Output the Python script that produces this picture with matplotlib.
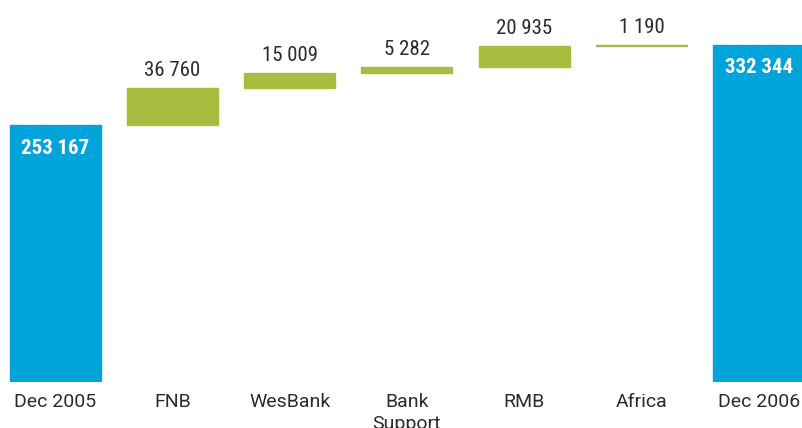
import os
import matplotlib
matplotlib.use("Agg")
import matplotlib.pyplot as plt
import matplotlib.font_manager as fm
import numpy as np

categories = ["Dec 2005", "FNB", "WesBank", "Bank\nSupport", "RMB", "Africa", "Dec 2006"]
start_total = 253167
increments = [36760, 15009, 5282, 20935, 1190]
end_total = 332344
labels = ["253 167", "36 760", "15 009", "5 282", "20 935", "1 190", "332 344"]

BLUE = "#00A3DA"
GREEN = "#A6BD40"
TEXT = "#2b2b2b"

files = [f.fname for f in fm.fontManager.ttflist]
lowfiles = [(os.path.basename(p).lower(), p) for p in files]

def pick(prefixes, bold):
    for pre in prefixes:
        for base, p in lowfiles:
            if base.startswith(pre):
                isbold = 'bold' in base
                if bold == isbold and 'italic' not in base and 'oblique' not in base \
                        and 'light' not in base and 'semi' not in base and 'extra' not in base \
                        and 'medium' not in base and 'black' not in base and 'thin' not in base:
                    return p
    return None

prefs = ['robotocondensed', 'roboto_condensed', 'liberationsansnarrow',
         'dejavusanscondensed', 'notosans-condensed', 'opensans-condensed',
         'opensans_condensed']
reg = pick(prefs, False)
bld = pick(prefs, True)
fp_reg = fm.FontProperties(fname=reg) if reg else fm.FontProperties(family='Roboto')
fp_bold = fm.FontProperties(fname=bld) if bld else fm.FontProperties(family='Roboto', weight='bold')
fp_tick = fm.FontProperties(family='Roboto')

sz_val = 15
sz_tick = 14

fig = plt.figure(figsize=(8.03, 4.28), dpi=100)
ax = fig.add_axes([0, 1 - 382 / 428, 1, 382 / 428])

x = np.arange(len(categories))
heights = [start_total] + increments + [end_total]
bottoms = [0]
run = start_total
for inc in increments:
    bottoms.append(run)
    run += inc
bottoms.append(0)
colors = [BLUE] + [GREEN] * len(increments) + [BLUE]

w = 0.776
ax.bar(x, heights, bottom=bottoms, width=w, color=colors, edgecolor=colors,
       linewidth=1.0)

for i, (h, b, lab) in enumerate(zip(heights, bottoms, labels)):
    top = h + b
    if i == 0 or i == len(categories) - 1:
        t = ax.annotate(lab, (x[i], top), xytext=(0, -23), textcoords='offset pixels',
                        ha='center', va='center', color='white')
        t.set_fontproperties(fp_bold)
        t.set_fontsize(sz_val)
    else:
        t = ax.annotate(lab, (x[i], top), xytext=(0, 12), textcoords='offset pixels',
                        ha='center', va='baseline', color=TEXT)
        t.set_fontproperties(fp_reg)
        t.set_fontsize(sz_val)

ax.set_xlim(-0.469, 6.377)
ax.set_ylim(0, 376700)
ax.set_xticks(x)
ax.set_xticklabels(categories, color=TEXT, va='top', linespacing=1.3)
for t in ax.get_xticklabels():
    t.set_fontproperties(fp_tick)
    t.set_fontsize(sz_tick)
ax.tick_params(axis='x', length=0, pad=8)
ax.set_yticks([])
for s in ax.spines.values():
    s.set_visible(False)

fig.savefig("out.png", dpi=100)
